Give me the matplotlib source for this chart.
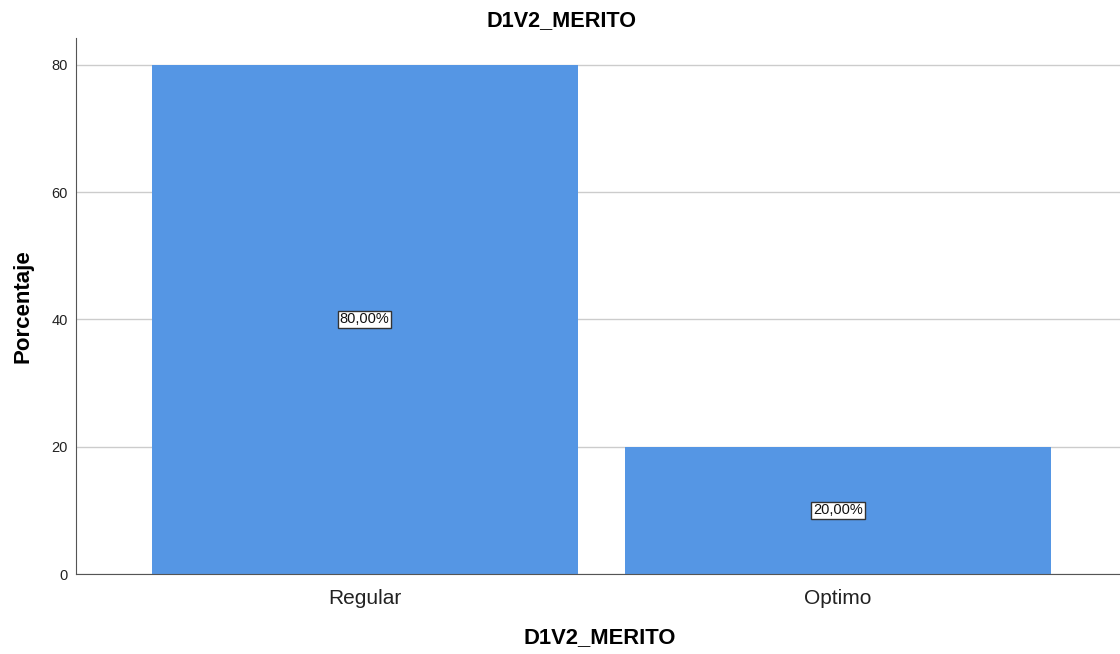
import matplotlib
matplotlib.use("Agg")
import matplotlib.pyplot as plt

categories = ["Regular", "Optimo"]
percentages = [80.0, 20.0]
labels = ["80,00%", "20,00%"]
yticks = [0, 20, 40, 60, 80]

plt.rcParams['font.family'] = ['Liberation Sans', 'DejaVu Sans']

W, H = 1120, 654
fig = plt.figure(figsize=(W/100, H/100), dpi=100)
ax_l, ax_r, ax_b, ax_t = 76, 1120, 574, 38
ax = fig.add_axes([ax_l/W, (H-ax_b)/H, (ax_r-ax_l)/W, (ax_b-ax_t)/H])

x = list(range(len(categories)))
ax.bar(x, percentages, width=0.9, color="#5596E4", zorder=2)
for xi, v, lab in zip(x, percentages, labels):
    ax.text(xi, v/2, lab, ha="center", va="center", fontsize=10.5, zorder=3, color="#111111",
            bbox=dict(boxstyle="square,pad=0.12", fc="white", ec="#333333", lw=1))

ax.set_xlim(-0.61, 1.596)
ax.set_ylim(0, 84.2)
ax.set_yticks(yticks)
ax.set_xticks(x)
ax.set_xticklabels(categories, fontsize=15, color="#222222")
ax.tick_params(axis="y", length=0, labelsize=10.5, pad=6, labelcolor="#222222")
ax.tick_params(axis="x", length=0, pad=11)
ax.yaxis.grid(True, color="#cccccc", lw=1, zorder=0)
ax.set_axisbelow(True)
for s in ["top", "right"]:
    ax.spines[s].set_visible(False)
ax.spines["left"].set_color("#555555")
ax.spines["bottom"].set_color("#555555")

axw, axh = ax_r - ax_l, ax_b - ax_t
ax.set_ylabel("Porcentaje", fontsize=16, fontweight="bold", va="center")
ax.yaxis.set_label_coords((23 - ax_l)/axw, 0.5)
ax.set_xlabel("D1V2_MERITO", fontsize=15.8, fontweight="bold", va="center")
ax.xaxis.set_label_coords((600 - ax_l)/axw, (ax_b - 638)/axh)
fig.text(562/W, 1 - 21/H, "D1V2_MERITO", ha="center", va="center", fontsize=15.6, fontweight="bold")

fig.savefig("out.png", dpi=100)
